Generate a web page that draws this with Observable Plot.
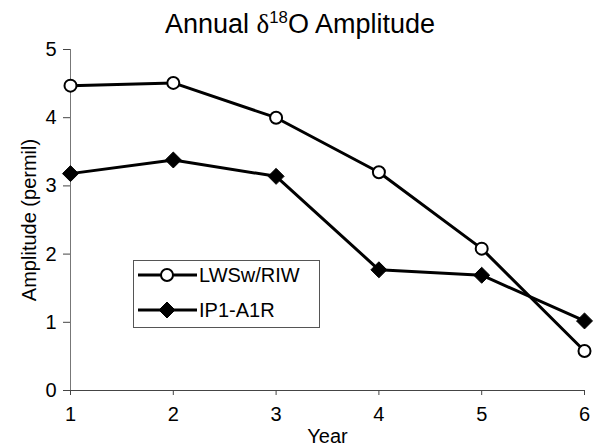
<!DOCTYPE html>
<html>
<head>
<meta charset="utf-8">
<script src="https://cdn.jsdelivr.net/npm/d3@7"></script>
<script src="https://cdn.jsdelivr.net/npm/@observablehq/plot@0.6"></script>
<style>
  html, body { margin: 0; padding: 0; background: #fff; }
  body { width: 600px; height: 446px; position: relative; overflow: hidden; font-family: "Liberation Sans", Arial, sans-serif; color: #000; }
  #title { position: absolute; left: 0; top: 9px; width: 600px; text-align: center; font-size: 27px; line-height: 30px; white-space: nowrap; }
  #title .delta { font-family: "Liberation Serif", "DejaVu Serif", serif; }
  #title sup { font-size: 0.62em; position: relative; top: -0.62em; vertical-align: baseline; }
  #chart { position: absolute; left: 0; top: 40px; }
  #legend { position: absolute; left: 0; top: 0; }
</style>
</head>
<body>
<div id="title">Annual <span class="delta">δ</span><sup>18</sup>O Amplitude</div>
<div id="chart"></div>
<svg id="legend" width="600" height="446"></svg>
<script>
// ---- data ----
const years = [1, 2, 3, 4, 5, 6];
const lwswRiw = [4.47, 4.51, 4.00, 3.20, 2.08, 0.58];
const ip1A1r = [3.18, 3.38, 3.14, 1.77, 1.69, 1.02];
const seriesNames = ["LWSw/RIW", "IP1-A1R"];
const xTicks = [1, 2, 3, 4, 5, 6];
const yTicks = [0, 1, 2, 3, 4, 5];
const xLabel = "Year";
const yLabel = "Amplitude (permil)";

const rows = [];
years.forEach((yr, i) => rows.push({year: yr, value: lwswRiw[i], series: seriesNames[0]}));
years.forEach((yr, i) => rows.push({year: yr, value: ip1A1r[i], series: seriesNames[1]}));
const lwRows = rows.filter(d => d.series === seriesNames[0]);
const ipRows = rows.filter(d => d.series === seriesNames[1]);

const chart = Plot.plot({
  width: 600,
  height: 406,
  marginTop: 9,
  marginLeft: 70,
  marginRight: 16,
  marginBottom: 56,
  style: {fontFamily: "'Liberation Sans', Arial, sans-serif", color: "#000", background: "transparent", overflow: "visible"},
  x: {domain: [1, 6]},
  y: {domain: [0, 5]},
  marks: [
    Plot.ruleX([1], {stroke: "#777", strokeWidth: 1}),
    Plot.ruleY([0], {stroke: "#444", strokeWidth: 1}),
    Plot.axisY({ticks: yTicks, tickFormat: "d", tickSize: 7, tickPadding: 7, fontSize: 20, stroke: "#444",
      label: yLabel, labelAnchor: "center", labelOffset: 49, labelArrow: false}),
    Plot.axisX({ticks: xTicks, tickFormat: "d", tickSize: 5, tickPadding: 11, fontSize: 20, stroke: "#444",
      label: xLabel, labelAnchor: "center", labelOffset: 52, labelArrow: false}),
    Plot.line(rows, {x: "year", y: "value", z: "series", stroke: "#000", strokeWidth: 3}),
    Plot.dot(ipRows, {x: "year", y: "value", symbol: "diamond2", r: 7.2, fill: "#000", stroke: "#000", strokeWidth: 1}),
    Plot.dot(lwRows, {x: "year", y: "value", symbol: "circle", r: 6, fill: "#fff", stroke: "#000", strokeWidth: 2})
  ]
});
document.getElementById("chart").appendChild(chart);

// ---- legend (inside the plot area) ----
const lg = d3.select("#legend");
const box = {x: 133, y: 260, w: 186, h: 67};
lg.append("rect").attr("x", box.x + 0.5).attr("y", box.y + 0.5).attr("width", box.w).attr("height", box.h)
  .attr("fill", "#fff").attr("stroke", "#555").attr("stroke-width", 1);
const rowY = [275, 310];
seriesNames.forEach((name, i) => {
  const cy = rowY[i];
  lg.append("line").attr("x1", 138).attr("x2", 197).attr("y1", cy).attr("y2", cy)
    .attr("stroke", "#000").attr("stroke-width", 3);
  if (i === 0) {
    lg.append("circle").attr("cx", 167).attr("cy", cy).attr("r", 6)
      .attr("fill", "#fff").attr("stroke", "#000").attr("stroke-width", 2);
  } else {
    lg.append("path").attr("d", d3.symbol(d3.symbolDiamond2, Math.PI * 7.2 * 7.2)())
      .attr("transform", `translate(167,${cy})`).attr("fill", "#000").attr("stroke", "#000");
  }
  lg.append("text").attr("x", 199).attr("y", cy).attr("dy", "0.36em")
    .attr("font-size", 20).attr("font-family", "'Liberation Sans', Arial, sans-serif")
    .text(name);
});
</script>
</body>
</html>
